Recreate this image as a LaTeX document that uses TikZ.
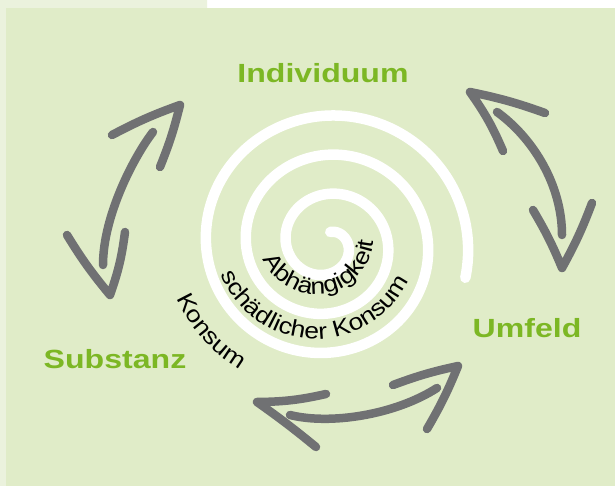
\documentclass[tikz,border=0pt]{standalone}
\usepackage{fontspec}
\usetikzlibrary{decorations.text}
\newfontfamily\wfont[FakeStretch=1.22]{Liberation Sans}
\newfontfamily\sfont[FakeStretch=1.15]{Liberation Sans}
\definecolor{bggreen}{RGB}{224,236,200}
\definecolor{bglight}{RGB}{235,242,221}
\definecolor{lblgreen}{RGB}{124,183,36}
\definecolor{arrowgray}{RGB}{112,113,115}
\newcommand\lblfnt{\wfont\bfseries\fontsize{26.3}{28}\selectfont}
\newcommand\spfnt{\sfont\fontsize{23}{25}\selectfont}
\begin{document}
\begin{tikzpicture}[x=1pt,y=1pt,
  lbl/.style={text=lblgreen, font=\lblfnt, inner sep=0pt, anchor=base},
  garrow/.style={draw=arrowgray, line width=8.5pt, line cap=round, line join=round},
  spiralline/.style={draw=white, line width=10.5pt, line cap=round, line join=round},
  arctext/.style={decorate, decoration={text along path, text align=left, text={#1}}}
]
\useasboundingbox (0,0) rectangle (615,-486);
\fill[white] (0,0) rectangle (615,-486);
\fill[bglight] (0,0) -- (207,0) -- (207,-8) -- (6,-8) -- (6,-486) -- (0,-486) -- cycle;
\fill[bggreen] (6,-8) rectangle (615,-486);

% spiral
\draw[spiralline] plot[domain=0:1169, samples=400, smooth, variable=\t]
  ({327+(12.667+\t/9)*cos(75-\t)}, {-244+0.98*(12.667+\t/9)*sin(75-\t)});

% texts along the spiral
\coordinate (sc) at (316,-236);
\path[arctext={|\spfnt|Abhängigkeit}] (sc) ++(204:58) arc[start angle=204, end angle=380, radius=58];
\path[arctext={|\spfnt|schädlicher Konsum}] (sc) ++(202:103) arc[start angle=202, end angle=360, radius=103];
\path[arctext={|\spfnt|Konsum}] (sc) ++(204:153) arc[start angle=204, end angle=260, radius=153];

% labels
\node[lbl] (ind) at (323,-83) {Individuum};
\node[lbl] (sub) at (115,-368) {Substanz};
\node[lbl] (umf) at (527,-337) {Umfeld};

% left arrow (Substanz - Individuum)
\coordinate (la1) at (153,-132);
\coordinate (la2) at (103,-265);
\draw[garrow] (la1) .. controls (135,-155) and (103,-215) .. (la2);
\coordinate (lt) at (180,-105);
\coordinate (lb) at (110,-295);
\draw[garrow] (112,-135) to[bend left=4] (lt) to[bend left=4] (160,-167);
\draw[garrow] (67,-235) to[bend right=4] (lb) to[bend right=6] (125,-232);

% right arrow (Individuum - Umfeld)
\coordinate (ra1) at (497,-112);
\coordinate (ra2) at (562,-235);
\draw[garrow] (ra1) .. controls (533,-138) and (562,-185) .. (ra2);
\coordinate (rt) at (470,-92);
\coordinate (rb) at (562,-268);
\draw[garrow] (545,-113) to[bend right=4] (rt) to[bend left=6] (503,-151);
\draw[garrow] (533,-210) to[bend left=4] (rb) to[bend right=4] (592,-203);

% bottom arrow (Substanz - Umfeld)
\coordinate (ba1) at (290,-415);
\coordinate (ba2) at (437,-388);
\draw[garrow] (ba1) .. controls (330,-425) and (395,-415) .. (ba2);
\coordinate (bl) at (257,-402);
\coordinate (br) at (458,-366);
\draw[garrow] (326,-394) to[bend left=6] (bl) to[bend left=2] (316,-447);
\draw[garrow] (393,-385) to[bend left=4] (br) to[bend left=4] (427,-429);
\end{tikzpicture}
\end{document}
